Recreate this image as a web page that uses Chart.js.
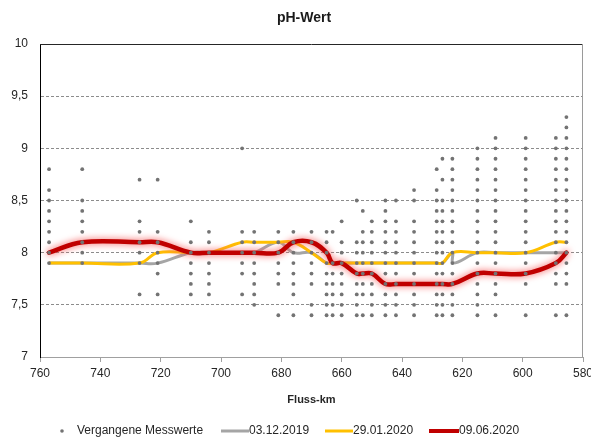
<!DOCTYPE html>
<html><head><meta charset="utf-8">
<script src="https://cdn.jsdelivr.net/npm/chart.js@4/dist/chart.umd.min.js"></script>
<style>html,body{margin:0;padding:0;background:#fff}#wrap{width:591px;height:437px}</style>
</head><body><div id="wrap"><canvas id="c" width="591" height="437"></canvas></div>
<script>
const chartTitle = 'pH-Wert';
const xAxisTitle = 'Fluss-km';
const seriesNames = ['Vergangene Messwerte', '03.12.2019', '29.01.2020', '09.06.2020'];
const xTicks = [760, 740, 720, 700, 680, 660, 640, 620, 600, 580];
const yTicks = [7, 7.5, 8, 8.5, 9, 9.5, 10];

// past measurements: one column of values per station (km)
const pastKm = [757, 746, 727, 721, 710, 704, 693, 689, 681, 676, 670, 665, 663, 660, 655, 653, 650, 645.5, 642, 636, 628.5, 626.6, 623.3, 615, 609, 599, 589, 585.5];
const pastValues = [
  [8.8, 8.6, 8.5, 8.4, 8.3, 8.2, 8.1, 8.0, 7.9],
  [8.8, 8.5, 8.4, 8.3, 8.2, 8.1, 8.0, 7.9],
  [8.7, 8.3, 8.2, 8.1, 8.0, 7.9, 7.6],
  [8.7, 8.2, 8.1, 8.0, 7.9, 7.8, 7.6],
  [8.3, 8.1, 8.0, 7.9, 7.8, 7.7, 7.6],
  [8.2, 8.1, 8.0, 7.9, 7.8, 7.7, 7.6],
  [9.0, 8.2, 8.1, 8.0, 7.9, 7.8, 7.6],
  [8.2, 8.1, 8.0, 7.9, 7.8, 7.7, 7.6, 7.5],
  [8.2, 8.1, 8.0, 7.9, 7.8, 7.7, 7.4],
  [8.2, 8.1, 8.0, 7.9, 7.8, 7.7, 7.6, 7.4],
  [8.2, 8.1, 8.0, 7.9, 7.8, 7.7, 7.5, 7.4],
  [8.2, 8.1, 8.0, 7.9, 7.8, 7.7, 7.6, 7.5, 7.4],
  [8.2, 7.9, 7.8, 7.7, 7.6, 7.5, 7.4],
  [8.3, 8.1, 8.0, 7.9, 7.8, 7.7, 7.6, 7.5, 7.4],
  [8.5, 8.1, 8.0, 7.9, 7.8, 7.7, 7.6, 7.5, 7.4],
  [8.4, 8.2, 8.1, 8.0, 7.9, 7.8, 7.7, 7.6, 7.4],
  [8.3, 8.2, 8.1, 8.0, 7.9, 7.8, 7.7, 7.6, 7.5, 7.4],
  [8.5, 8.4, 8.3, 8.2, 8.1, 8.0, 7.9, 7.8, 7.7, 7.6, 7.5, 7.4],
  [8.5, 8.3, 8.2, 8.1, 8.0, 7.9, 7.8, 7.7, 7.6, 7.5, 7.4],
  [8.6, 8.5, 8.3, 8.2, 8.1, 8.0, 7.9, 7.8, 7.7, 7.6, 7.5, 7.4],
  [8.8, 8.6, 8.5, 8.4, 8.3, 8.2, 8.1, 8.0, 7.9, 7.8, 7.7, 7.6, 7.5, 7.4],
  [8.9, 8.7, 8.5, 8.4, 8.3, 8.2, 8.1, 8.0, 7.9, 7.8, 7.7, 7.6, 7.5, 7.4],
  [8.9, 8.8, 8.7, 8.6, 8.5, 8.4, 8.3, 8.2, 8.1, 8.0, 7.9, 7.8, 7.7, 7.6, 7.5, 7.4],
  [9.0, 8.9, 8.8, 8.7, 8.6, 8.5, 8.4, 8.3, 8.2, 8.1, 8.0, 7.9, 7.8, 7.7, 7.6, 7.5, 7.4],
  [9.1, 9.0, 8.9, 8.8, 8.7, 8.6, 8.5, 8.4, 8.3, 8.2, 8.1, 8.0, 7.9, 7.8, 7.7, 7.6, 7.4],
  [9.1, 9.0, 8.9, 8.8, 8.7, 8.6, 8.5, 8.4, 8.3, 8.2, 8.1, 8.0, 7.9, 7.8, 7.7, 7.4],
  [9.1, 9.0, 8.9, 8.8, 8.7, 8.6, 8.5, 8.4, 8.3, 8.2, 8.1, 8.0, 7.9, 7.8, 7.7, 7.4],
  [9.3, 9.2, 9.1, 9.0, 8.9, 8.8, 8.7, 8.6, 8.5, 8.4, 8.3, 8.2, 8.1, 8.0, 7.9, 7.8, 7.7, 7.4]
];

const kmDec2019 = [757, 746, 727, 721, 710, 704, 693, 689, 681, 676, 670, 665, 663, 660, 655, 653, 650, 645.5, 642, 636, 628.5, 626.6, 623.3, 623.0, 615, 609, 599, 589, 585.5];
const phDec2019 = [7.9, 7.9, 7.9, 7.9, 8.0, 8.0, 8.0, 8.0, 8.1, 8.0, 8.0, 7.9, 7.9, 7.9, 7.9, 7.9, 7.9, 7.9, 7.9, 7.9, 7.9, 7.9, 8.0, 7.9, 8.0, 8.0, 8.0, 8.0, 8.0];

const kmJan2020 = [757, 746, 727, 721, 710, 704, 693, 689, 681, 676, 670, 665, 663, 660, 655, 653, 650, 645.5, 642, 636, 628.5, 626.6, 623.3, 615, 609, 599, 589, 585.5];
const phJan2020 = [7.9, 7.9, 7.9, 8.0, 8.0, 8.0, 8.1, 8.1, 8.1, 8.1, 8.0, 7.9, 7.9, 7.9, 7.9, 7.9, 7.9, 7.9, 7.9, 7.9, 7.9, 7.9, 8.0, 8.0, 8.0, 8.0, 8.1, 8.1];

const kmJun2020 = [757, 746, 727, 721, 710, 704, 693, 689, 681, 676, 670, 665, 663, 660, 655, 653, 650, 645.5, 642, 636, 628.5, 626.6, 623.3, 615, 609, 599, 589, 585.5];
const phJun2020 = [8.0, 8.1, 8.1, 8.1, 8.0, 8.0, 8.0, 8.0, 8.0, 8.1, 8.1, 8.0, 7.9, 7.9, 7.8, 7.8, 7.8, 7.7, 7.7, 7.7, 7.7, 7.7, 7.7, 7.8, 7.8, 7.8, 7.9, 8.0];

const toPts = (xs, ys) => xs.map((x, i) => ({x: x, y: ys[i]}));
const pastPoints = [];
pastKm.forEach((k, i) => pastValues[i].forEach(v => pastPoints.push({x: k, y: v})));

const COL_PAST = '#737373', COL_DEC = '#a5a5a5', COL_JAN = '#ffc000', COL_JUN = '#c00000';
const FONT = "'Liberation Sans', Arial, sans-serif";
const TXT = '#262626';

const glowPlugin = {
  id: 'glow',
  beforeDatasetDraw(chart, args) {
    if (args.index === 1) {
      const ctx = chart.ctx;
      ctx.save();
      ctx.shadowColor = 'rgba(245,90,90,1)';
      ctx.shadowBlur = 7;
    }
  },
  afterDatasetDraw(chart, args) {
    if (args.index === 1) chart.ctx.restore();
  }
};

const decoPlugin = {
  id: 'deco',
  afterDraw(chart) {
    const ctx = chart.ctx, a = chart.chartArea;
    ctx.save();
    ctx.lineWidth = 1;
    ctx.strokeStyle = '#262626';
    ctx.beginPath(); ctx.moveTo(a.left, Math.round(a.top) + 0.5); ctx.lineTo(a.right, Math.round(a.top) + 0.5); ctx.stroke();
    ctx.strokeStyle = '#9a9a9a';
    ctx.beginPath(); ctx.moveTo(Math.round(a.right) - 0.5, a.top); ctx.lineTo(Math.round(a.right) - 0.5, a.bottom); ctx.stroke();
    ctx.fillStyle = '#1a1a1a';
    ctx.font = 'bold 14px ' + FONT;
    ctx.textAlign = 'center'; ctx.textBaseline = 'middle';
    ctx.fillText(chartTitle, 304, 18);
    const ly = 431;
    ctx.font = '12px ' + FONT;
    ctx.textAlign = 'left';
    ctx.fillStyle = COL_PAST;
    ctx.beginPath(); ctx.arc(62, ly, 1.8, 0, Math.PI * 2); ctx.fill();
    ctx.fillStyle = TXT;
    ctx.fillText(seriesNames[0], 77, ly);
    const items = [[COL_DEC, 3, 221, 249, seriesNames[1]], [COL_JAN, 3, 325, 353, seriesNames[2]], [COL_JUN, 4, 429, 459, seriesNames[3]]];
    items.forEach(([c, w, x0, x1, t]) => {
      ctx.strokeStyle = c; ctx.lineWidth = w; ctx.lineCap = 'butt';
      ctx.beginPath(); ctx.moveTo(x0, ly); ctx.lineTo(x1, ly); ctx.stroke();
      ctx.fillStyle = TXT;
      ctx.fillText(t, x1, ly);
    });
    ctx.restore();
  }
};

new Chart(document.getElementById('c'), {
  type: 'scatter',
  data: {
    datasets: [
      {label: seriesNames[0], data: pastPoints, showLine: false, pointRadius: 1.9, pointHoverRadius: 1.9,
       pointBackgroundColor: COL_PAST, pointBorderWidth: 0, pointStyle: 'circle', order: 0},
      {label: seriesNames[3], data: toPts(kmJun2020, phJun2020), showLine: true, borderColor: COL_JUN, borderWidth: 4.5,
       pointRadius: 0, tension: 0.4, order: 1, borderCapStyle: 'round', borderJoinStyle: 'round'},
      {label: seriesNames[2], data: toPts(kmJan2020, phJan2020), showLine: true, borderColor: COL_JAN, borderWidth: 3,
       pointRadius: 0, tension: 0.4, order: 2, borderJoinStyle: 'round'},
      {label: seriesNames[1], data: toPts(kmDec2019, phDec2019), showLine: true, borderColor: COL_DEC, borderWidth: 3,
       pointRadius: 0, tension: 0.4, order: 3, borderJoinStyle: 'round'}
    ]
  },
  options: {
    responsive: false, animation: false, devicePixelRatio: 1,
    layout: {padding: {left: 0, right: 8, top: 44, bottom: 30}},
    plugins: {legend: {display: false}, title: {display: false}, tooltip: {enabled: false}},
    events: [],
    scales: {
      x: {
        type: 'linear', reverse: true, min: 580, max: 760,
        afterBuildTicks: s => { s.ticks = xTicks.map(v => ({value: v})); },
        grid: {drawOnChartArea: false, drawTicks: true, tickLength: 5, tickColor: '#a0a0a0'},
        border: {color: '#a0a0a0', width: 1},
        ticks: {font: {family: FONT, size: 12}, color: TXT, padding: 4, maxRotation: 0, autoSkip: false},
        title: {display: true, text: xAxisTitle, font: {family: FONT, size: 11, weight: 'bold'}, color: TXT, padding: {top: 8, bottom: 0}},
        afterFit: s => { s.height = 50; s.paddingLeft = 0; s.paddingRight = 0; }
      },
      y: {
        min: 7, max: 10,
        afterBuildTicks: s => { s.ticks = yTicks.map(v => ({value: v})); },
        ticks: {font: {family: FONT, size: 12}, color: TXT, padding: 12,
                callback: v => String(v).replace('.', ',')},
        grid: {drawTicks: false, color: c => (c.tick && (c.tick.value === 7 || c.tick.value === 10)) ? 'rgba(0,0,0,0)' : '#8c8c8c'},
        border: {color: '#000', width: 1, dash: [3, 2]},
        afterFit: s => { s.width = 40; s.paddingTop = 0; s.paddingBottom = 0; }
      }
    }
  },
  plugins: [glowPlugin, decoPlugin]
});
</script>
</body></html>
